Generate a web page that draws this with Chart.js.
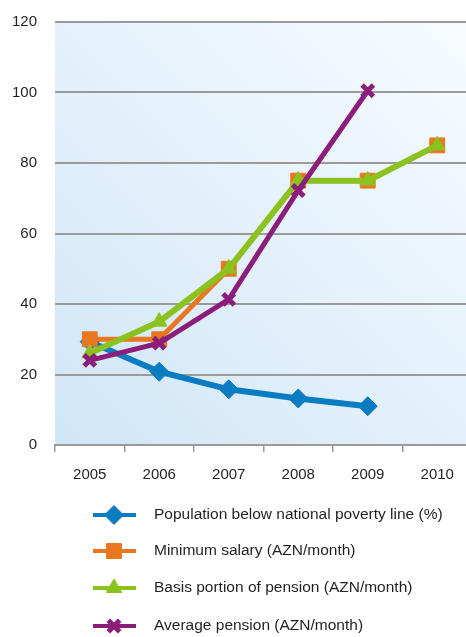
<!DOCTYPE html>
<html>
<head>
<meta charset="utf-8">
<script src="https://cdn.jsdelivr.net/npm/chart.js@4/dist/chart.umd.min.js"></script>
<style>
  html, body { margin: 0; padding: 0; background: #fff; overflow: hidden; }
  #wrap { width: 466px; height: 637px; overflow: hidden; }
</style>
</head>
<body>
<div id="wrap"><canvas id="chart" width="485" height="637"></canvas></div>
<script>
const years = ['2005', '2006', '2007', '2008', '2009', '2010'];
const poverty = [29.3, 20.8, 15.8, 13.2, 11.0, null];
const minSalary = [30, 30, 50, 75, 75, 85];
const basePension = [26, 35, 50, 75, 75, 85];
const avgPension = [24, 28.9, 41.3, 72.2, 100.5, null];
const seriesNames = [
  'Population below national poverty line (%)',
  'Minimum salary (AZN/month)',
  'Basis portion of pension (AZN/month)',
  'Average pension (AZN/month)'
];

const FONT = '"Liberation Sans", Arial, sans-serif';

// light blue gradient behind the plot area
const plotBackground = {
  id: 'plotBackground',
  beforeDraw(chart) {
    const { ctx, chartArea: a } = chart;
    const g = ctx.createLinearGradient(a.left, a.bottom, a.right, a.top);
    g.addColorStop(0, '#d0e6f7');
    g.addColorStop(1, '#f8fcff');
    ctx.save();
    ctx.fillStyle = g;
    ctx.fillRect(a.left, a.top, a.right - a.left, a.bottom - a.top);
    ctx.restore();
  }
};

// legend under the chart: line + marker, then text
const lineLegend = {
  id: 'lineLegend',
  afterDraw(chart) {
    const ctx = chart.ctx;
    const rows = [515, 551, 588, 626];
    chart.data.datasets.forEach((ds, i) => {
      const y = rows[i];
      ctx.save();
      ctx.strokeStyle = ds.borderColor;
      ctx.lineWidth = 4;
      ctx.beginPath();
      ctx.moveTo(93, y);
      ctx.lineTo(136, y);
      ctx.stroke();
      ctx.fillStyle = ds.pointBackgroundColor;
      ctx.strokeStyle = ds.pointBorderColor;
      ctx.lineWidth = ds.pointBorderWidth;
      Chart.helpers.drawPoint(ctx, {
        pointStyle: ds.pointStyle,
        radius: ds.pointRadius,
        rotation: 0,
        borderWidth: ds.pointBorderWidth
      }, 114, y);
      ctx.fillStyle = '#231f20';
      ctx.font = '15.5px ' + FONT;
      ctx.textBaseline = 'middle';
      ctx.fillText(ds.label, 154, y);
      ctx.restore();
    });
  }
};

function series(label, data, color, style, radius, lineWidth, pointBorder, order) {
  return {
    label: label,
    data: data,
    borderColor: color,
    backgroundColor: color,
    borderWidth: lineWidth,
    pointStyle: style,
    pointRadius: radius,
    pointHoverRadius: radius,
    pointBackgroundColor: color,
    pointBorderColor: color,
    pointBorderWidth: pointBorder,
    tension: 0,
    spanGaps: false,
    order: order
  };
}

new Chart(document.getElementById('chart').getContext('2d'), {
  type: 'line',
  data: {
    labels: years,
    datasets: [
      series(seriesNames[0], poverty, '#0a7cc1', 'rectRot', 9.5, 6, 1, 4),
      series(seriesNames[1], minSalary, '#e8771f', 'rect', 10.5, 5, 1, 3),
      series(seriesNames[2], basePension, '#8cc220', 'triangle', 9, 6, 1, 2),
      series(seriesNames[3], avgPension, '#8c1d7a', 'crossRot', 8, 5, 5, 1)
    ]
  },
  options: {
    responsive: false,
    animation: false,
    layout: { padding: { top: 22, left: 0, right: 0, bottom: 0 } },
    plugins: {
      legend: { display: false },
      tooltip: { enabled: false }
    },
    scales: {
      x: {
        offset: true,
        afterFit(scale) {
          scale.height = 192;
          scale.paddingLeft = 0;
          scale.paddingRight = 0;
        },
        grid: {
          offset: true,
          drawOnChartArea: false,
          drawTicks: true,
          tickLength: 7,
          color: '#9a9a9a',
          lineWidth: 1.5
        },
        border: { display: true, color: '#9a9a9a', width: 2 },
        ticks: {
          color: '#231f20',
          font: { family: FONT, size: 15 },
          padding: 14,
          maxRotation: 0
        }
      },
      y: {
        min: 0,
        max: 120,
        afterFit(scale) {
          scale.width = 55;
          scale.paddingTop = 0;
          scale.paddingBottom = 0;
        },
        grid: {
          color: '#9a9a9a',
          lineWidth: 2,
          drawTicks: false
        },
        border: { display: false },
        ticks: {
          stepSize: 20,
          color: '#231f20',
          font: { family: FONT, size: 15 },
          padding: 18
        }
      }
    }
  },
  plugins: [plotBackground, lineLegend]
});
</script>
</body>
</html>
